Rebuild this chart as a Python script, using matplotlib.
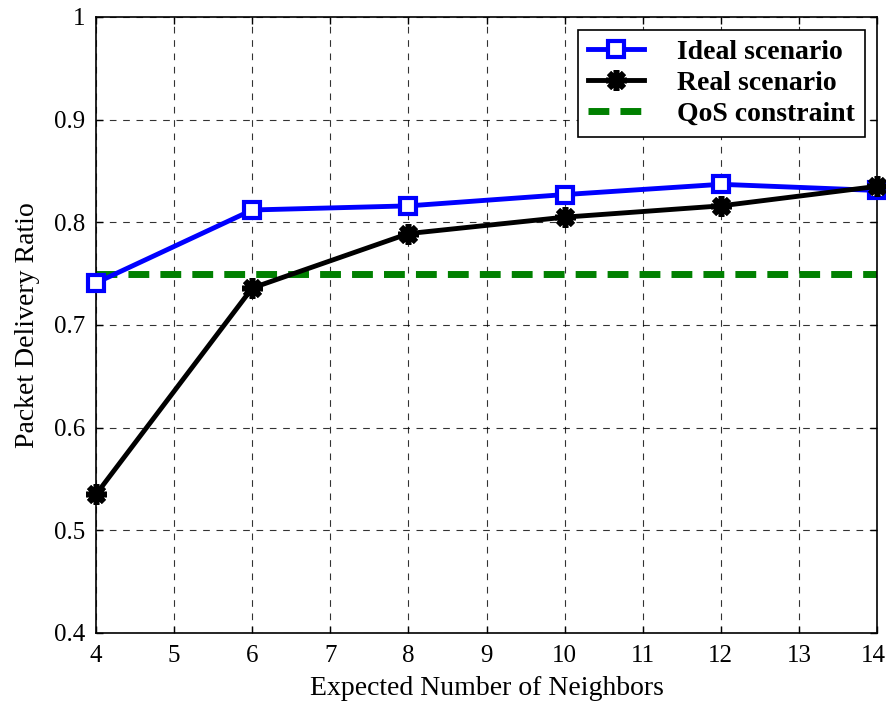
import matplotlib
matplotlib.use("Agg")
import matplotlib.pyplot as plt
import matplotlib.transforms as mtransforms

# data
neighbors = [4, 6, 8, 10, 12, 14]
ideal_pdr = [0.741, 0.812, 0.816, 0.827, 0.837, 0.831]
real_pdr = [0.535, 0.736, 0.789, 0.805, 0.816, 0.835]
qos_x = [4, 14]
qos_pdr = [0.75, 0.75]

plt.rcParams['font.family'] = ['Liberation Serif', 'DejaVu Serif']
plt.rcParams['font.size'] = 18

fig = plt.figure(figsize=(8.86, 7.04), dpi=100)
ax = fig.add_axes([0.1084, 0.1009, 0.8815, 0.875])

ax.plot(qos_x, qos_pdr, '--', color='#008000', lw=5, dashes=(3, 1.6), label='QoS constraint', zorder=2)
ax.plot(neighbors, ideal_pdr, '-s', color='blue', lw=3.5, ms=11, mfc='white', mew=3,
        label='Ideal scenario', zorder=3, clip_on=False)
ax.plot(neighbors, real_pdr, '-', color='black', lw=3.5, label='Real scenario', zorder=4,
        marker=(8, 2, 0), ms=15, mew=4, clip_on=False)

ax.set_xlim(4, 14)
ax.set_ylim(0.4, 1.0)
ax.set_xticks(range(4, 15))
ax.set_yticks([0.4, 0.5, 0.6, 0.7, 0.8, 0.9, 1.0])
ax.set_yticklabels(['0.4', '0.5', '0.6', '0.7', '0.8', '0.9', '1'])
ax.tick_params(direction='in', length=5, width=1, top=True, right=True)
ax.tick_params(axis='x', pad=9)
ax.tick_params(axis='y', pad=8)
ax.grid(True, color='black', linestyle=(0, (6, 6)), linewidth=0.8, alpha=0.8)
for s in ax.spines.values():
    s.set_linewidth(1.2)

# nudge the last x label so it stays inside the figure
last = ax.get_xticklabels()[-1]
last.set_transform(last.get_transform() + mtransforms.ScaledTranslation(-4 / 100, 0, fig.dpi_scale_trans))

ax.set_xlabel('Expected Number of Neighbors', fontsize=20, labelpad=6)
ax.set_ylabel('Packet Delivery Ratio', fontsize=20, labelpad=10)

h, l = ax.get_legend_handles_labels()
leg = ax.legend([h[1], h[2], h[0]], [l[1], l[2], l[0]], loc='upper right',
                bbox_to_anchor=(0.984, 0.979), borderaxespad=0, fancybox=False,
                edgecolor='black', framealpha=1, prop={'weight': 'bold', 'size': 20},
                handlelength=2.0, handletextpad=1.2, borderpad=0.35, labelspacing=0.2)
leg.get_frame().set_linewidth(1.2)

fig.savefig('out.png', dpi=100)
